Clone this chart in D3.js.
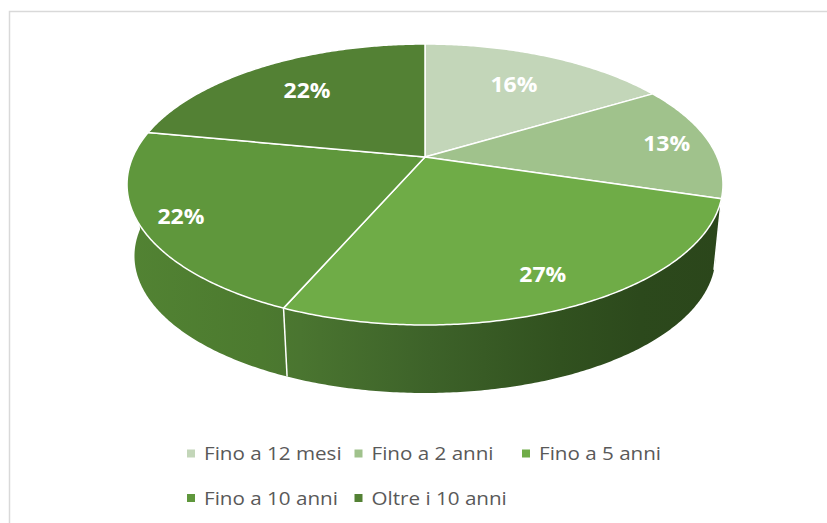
<!DOCTYPE html>
<html>
<head>
<meta charset="utf-8">
<script src="https://cdn.jsdelivr.net/npm/d3@7"></script>
<style>
  body { margin: 0; background: #fff; }
  svg { display: block; }
</style>
</head>
<body>
<div id="chart"></div>
<script>
// data, clockwise from 12 o'clock
let categories = ["Fino a 12 mesi", "Fino a 2 anni", "Fino a 5 anni", "Fino a 10 anni", "Oltre i 10 anni"];
let shares = [16.4, 13.3, 26.8, 21.5, 22.0];
let labels = ["16%", "13%", "27%", "22%", "22%"];
let colors = ["#c3d6b9", "#a0c28c", "#6fac47", "#5f973c", "#538134"];

// where each % label sits along its slice (fraction of radius)
let labelRadius = [0.69, 0.85, 0.82, 0.87, 0.7];

let width = 827,
  height = 523;

let svg = d3
  .select("#chart")
  .append("svg")
  .attr("width", width)
  .attr("height", height);

//chart frame
svg
  .append("rect")
  .attr("x", 9.5)
  .attr("y", 11.5)
  .attr("width", 840)
  .attr("height", 540)
  .attr("fill", "#fff")
  .attr("stroke", "#d9d9d9")
  .attr("stroke-width", 1.5);

// perspective projection of the disk: top face and (smaller, lower) bottom face
let cx = 425,
  cy = 157,
  A = 292.2,
  B = 135.1,
  k = 0.1957,
  cyBottom = 229.2,
  shrink = 0.975;

function proj(theta, r, bottom) {
  let u = r * Math.sin(theta),
    v = -r * Math.cos(theta),
    w = 1 - k * v;
  if (bottom) return [cx + (shrink * A * u) / w, cyBottom + (shrink * B * v) / w];
  return [cx + (A * u) / w, cy + (B * v) / w];
}

function arcPts(a0, a1, bottom) {
  let n = Math.max(2, Math.ceil(Math.abs(a1 - a0) / 0.01));
  return d3.range(n + 1).map((i) => proj(a0 + ((a1 - a0) * i) / n, 1, bottom));
}

let line = d3.line();
let arcs = d3.pie().sort(null).value((d) => d)(shares);

//side lighting, left bright to right dark
let defs = svg.append("defs");
let grad = defs
  .append("linearGradient")
  .attr("id", "sideGrad")
  .attr("gradientUnits", "userSpaceOnUse")
  .attr("x1", 127)
  .attr("x2", 723)
  .attr("y1", 0)
  .attr("y2", 0);
[
  [127, "#528333"],
  [260, "#4c7a2f"],
  [300, "#4a7530"],
  [430, "#3d6229"],
  [560, "#31511f"],
  [640, "#2c491c"],
  [723, "#2b461b"],
].forEach((s) => {
  grad
    .append("stop")
    .attr("offset", (s[0] - 127) / 596)
    .attr("stop-color", s[1]);
});

// sides: only the front half, far pieces first
let lo = Math.PI / 2,
  hi = (3 * Math.PI) / 2;
let sides = arcs
  .map((a) => ({ a0: Math.max(a.startAngle, lo), a1: Math.min(a.endAngle, hi) }))
  .filter((s) => s.a1 > s.a0)
  .sort((p, q) => Math.abs((q.a0 + q.a1) / 2 - Math.PI) - Math.abs((p.a0 + p.a1) / 2 - Math.PI));

svg
  .selectAll(".side")
  .data(sides)
  .enter()
  .append("path")
  .attr("class", "side")
  .attr("d", (s) => line(arcPts(s.a0, s.a1, false).concat(arcPts(s.a1, s.a0, true))) + "Z")
  .attr("fill", "url(#sideGrad)");

//white seams on visible side
let thR = Math.acos(-k),
  thL = 2 * Math.PI - thR;
arcs
  .filter((a) => a.startAngle > thR && a.startAngle < thL)
  .forEach((a) => {
    svg
      .append("path")
      .attr("d", line([proj(a.startAngle, 1, false), proj(a.startAngle, 1, true)]))
      .attr("stroke", "#fff")
      .attr("stroke-width", 1.5);
  });

// top face slices
svg
  .selectAll(".top")
  .data(arcs)
  .enter()
  .append("path")
  .attr("class", "top")
  .attr("d", (a) => line([[cx, cy]].concat(arcPts(a.startAngle, a.endAngle, false))) + "Z")
  .attr("fill", (a, i) => colors[i])
  .attr("stroke", "#fff")
  .attr("stroke-width", 1.5)
  .attr("stroke-linejoin", "round");

// % labels
svg
  .selectAll(".lbl")
  .data(arcs)
  .enter()
  .append("text")
  .attr("class", "lbl")
  .attr("transform", (a, i) => {
    let p = proj((a.startAngle + a.endAngle) / 2, labelRadius[i], false);
    return "translate(" + p[0] + "," + p[1] + ") scale(1.12,1)";
  })
  .attr("text-anchor", "middle")
  .attr("dy", "0.36em")
  .attr("fill", "#fff")
  .style("font-family", "'Open Sans', sans-serif")
  .style("font-weight", "bold")
  .style("font-size", "20.5px")
  .text((a, i) => labels[i]);

// legend, 3 per row
let legendX0 = 187,
  legendCol = 167.5,
  legendY0 = 453.5,
  legendRow = 44.5;
let legend = svg
  .selectAll(".leg")
  .data(categories)
  .enter()
  .append("g")
  .attr("class", "leg")
  .attr("transform", (d, i) =>
    "translate(" + (legendX0 + (i % 3) * legendCol) + "," + (legendY0 + Math.floor(i / 3) * legendRow) + ")"
  );
legend
  .append("rect")
  .attr("x", 0)
  .attr("y", -4)
  .attr("width", 8)
  .attr("height", 8)
  .attr("fill", (d, i) => colors[i]);
legend
  .append("text")
  .attr("transform", "translate(17,0) scale(1.085,1)")
  .attr("dy", "0.35em")
  .attr("fill", "#595959")
  .style("font-family", "'Open Sans', sans-serif")
  .style("font-size", "19px")
  .text((d) => d);
</script>
</body>
</html>
